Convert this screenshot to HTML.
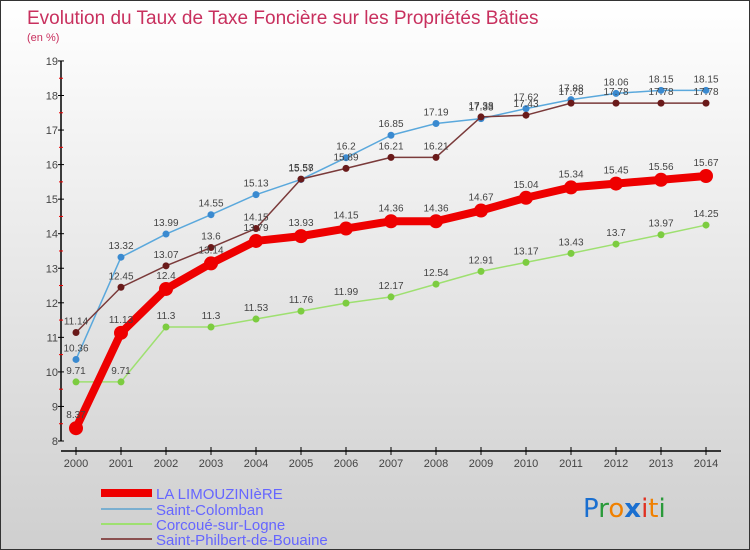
<!DOCTYPE html>
<html><head><meta charset="utf-8"><style>
body{margin:0;}
#c{position:relative;width:748px;height:548px;border:1px solid #333;background:linear-gradient(#ffffff,#cfcfcf);overflow:hidden;font-family:"Liberation Sans",sans-serif;}
</style></head><body>
<div id="c">
<svg id="s" width="748" height="548" xmlns="http://www.w3.org/2000/svg">
<text x="26" y="23" font-size="19" fill="#c8305e">Evolution du Taux de Taxe Foncière sur les Propriétés Bâties</text>
<text x="26" y="40" font-size="11" fill="#c8305e">(en %)</text>
<g id="axes"></g><g id="series"></g><g id="labels"></g>
<g>
<line x1="100" y1="492" x2="151" y2="492" stroke="#e00" stroke-width="8"/>
<text x="155" y="498" font-size="15" fill="#6666ff">LA LIMOUZINIèRE</text>
<line x1="100" y1="508" x2="151" y2="508" stroke="#7aafd0" stroke-width="2"/>
<text x="155" y="514" font-size="15" fill="#6666ff">Saint-Colomban</text>
<line x1="100" y1="523" x2="151" y2="523" stroke="#9ee070" stroke-width="2"/>
<text x="155" y="529" font-size="15" fill="#6666ff">Corcoué-sur-Logne</text>
<line x1="100" y1="538" x2="151" y2="538" stroke="#8a5050" stroke-width="2"/>
<text x="155" y="544" font-size="15" fill="#6666ff">Saint-Philbert-de-Bouaine</text>
</g>
<g font-size="26" font-family="'DejaVu Sans',sans-serif">
<text x="582" y="516"><tspan fill="#1a6fd0">P</tspan><tspan fill="#2a9a3a">r</tspan><tspan fill="#f08000">o</tspan><tspan fill="#1a6fd0" font-weight="bold">x</tspan><tspan fill="#e03020">i</tspan><tspan fill="#f08000">t</tspan><tspan fill="#2a9a3a">i</tspan></text>
</g>
</svg>
</div>
<script>
const years=[2000,2001,2002,2003,2004,2005,2006,2007,2008,2009,2010,2011,2012,2013,2014];
const limouziniere=[8.37,11.13,12.4,13.14,13.79,13.93,14.15,14.36,14.36,14.67,15.04,15.34,15.45,15.56,15.67];
const saintColomban=[10.36,13.32,13.99,14.55,15.13,15.57,16.2,16.85,17.19,17.33,17.62,17.88,18.06,18.15,18.15];
const corcoue=[9.71,9.71,11.3,11.3,11.53,11.76,11.99,12.17,12.54,12.91,13.17,13.43,13.7,13.97,14.25];
const saintPhilbert=[11.14,12.45,13.07,13.6,14.15,15.58,15.89,16.21,16.21,17.38,17.43,17.78,17.78,17.78,17.78];
const yTicks=[8,9,10,11,12,13,14,15,16,17,18,19];
const NS="http://www.w3.org/2000/svg";
const X=i=>75+i*45;
const Y=v=>440-(v-8)*34.55;
function mk(t,a,p){const e=document.createElementNS(NS,t);for(const k in a)e.setAttribute(k,a[k]);p.appendChild(e);return e;}
const axes=document.getElementById('axes'),ser=document.getElementById('series'),lab=document.getElementById('labels');
let ya=mk('line',{x1:60,y1:Y(19),x2:60,y2:Y(8),stroke:'#000','stroke-width':1.5},axes);


let xa=mk('line',{x1:60,y1:450,x2:720,y2:450,stroke:'#000','stroke-width':1.5},axes);


yTicks.forEach(v=>{
 mk('line',{x1:57,y1:Y(v),x2:63,y2:Y(v),stroke:'#000'},axes);
 if(v<19)mk('line',{x1:58,y1:Y(v+0.5),x2:62,y2:Y(v+0.5),stroke:'#e00'},axes);
 const t=mk('text',{x:57,y:Y(v)+4,'font-size':11,fill:'#444','text-anchor':'end'},axes);t.textContent=v;
 
 
});
years.forEach((y,i)=>{
 mk('line',{x1:X(i),y1:446,x2:X(i),y2:454,stroke:'#000'},axes);
 const t=mk('text',{x:X(i),y:466,'font-size':11,fill:'#444','text-anchor':'middle'},axes);t.textContent=y;
 
 
});
function series(data,color,w,r,name,fill){
 const g=mk('g',{},ser);
 
 
 mk('polyline',{points:data.map((v,i)=>X(i)+','+Y(v)).join(' '),fill:'none',stroke:color,'stroke-width':w,'stroke-linejoin':'round'},g);
 data.forEach((v,i)=>{
  const c=mk('circle',{cx:X(i),cy:Y(v),r:r,fill:fill},g);
  
  
  const t=mk('text',{x:X(i),y:Y(v)-8-(r>5?2:0),'font-size':10,fill:'#444','text-anchor':'middle'},lab);t.textContent=v;
  
  
 });
}
series(corcoue,'#9ee070',1.5,3.5,'corcoue','#7ccc40');
series(saintColomban,'#5aa8dc',1.5,3.5,'saint-colomban','#3a8ad0');
series(saintPhilbert,'#7a3a3a',1.5,3.5,'saint-philbert','#6a1a1a');
series(limouziniere,'#ee0000',8,7,'limouziniere','#ee0000');
</script>
</body></html>
